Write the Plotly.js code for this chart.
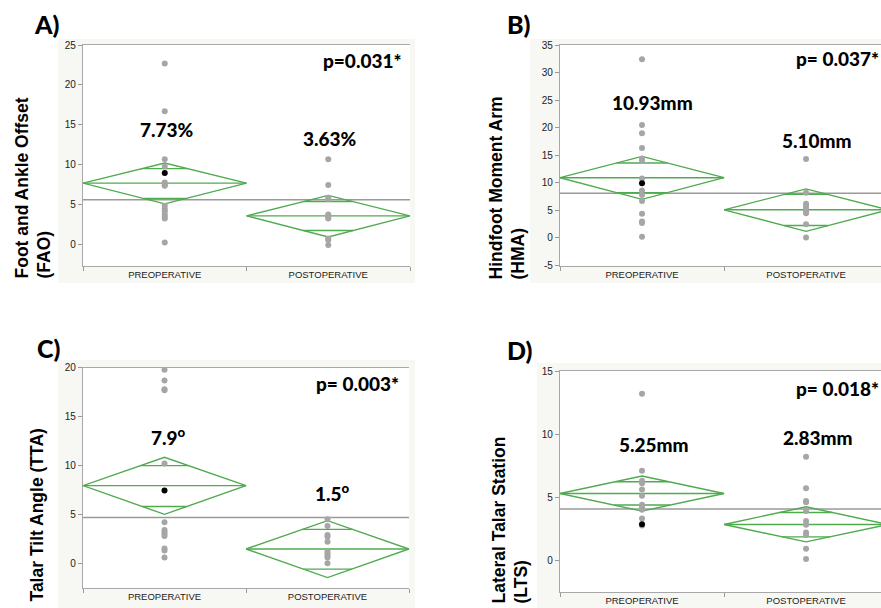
<!DOCTYPE html>
<html><head><meta charset="utf-8">
<script src="https://cdn.plot.ly/plotly-3.0.1.min.js"></script>
<style>html,body{margin:0;padding:0;background:#fff}#chart{width:881px;height:608px}</style>
</head><body><div id="chart"></div><script>
// ---------- DATA ----------
const groups = ["PREOPERATIVE", "POSTOPERATIVE"];

// A) Foot and Ankle Offset (FAO)
const faoPre  = [22.7, 16.7, 10.7, 9.8, 7.8, 7.5, 7.4, 4.9, 4.5, 4.2, 3.8, 3.5, 3.3, 0.3];
const faoPreBlack = [9.0];
const faoPost = [10.7, 7.5, 5.9, 5.7, 3.8, 3.6, 3.4, 3.3, 0.8, 0.6, 0.0];
const faoMean = [7.73, 3.63];
const faoCIupper = [10.25, 6.19];
const faoCIlower = [5.14, 1.0];
const faoOverlapUpper = [9.54, 5.43];
const faoOverlapLower = [5.8, 1.8];
const faoGrand = 5.65;

// B) Hindfoot Moment Arm (HMA)
const hmaPre  = [32.4, 20.5, 19.0, 16.3, 14.4, 14.0, 10.8, 8.6, 7.8, 6.7, 4.4, 3.0, 2.7, 0.2];
const hmaPreBlack = [9.9];
const hmaPost = [14.3, 8.2, 6.2, 5.8, 5.4, 5.0, 4.7, 4.5, 2.5, 0.1];
const hmaMean = [10.93, 5.10];
const hmaCIupper = [14.8, 8.9];
const hmaCIlower = [7.0, 1.2];
const hmaOverlapUpper = [13.6, 7.9];
const hmaOverlapLower = [8.2, 2.25];
const hmaGrand = 8.1;

// C) Talar Tilt Angle (TTA)
const ttaPre  = [19.8, 18.7, 17.8, 17.7, 10.2, 4.2, 3.4, 3.2, 3.0, 2.8, 1.5, 1.3, 0.6];
const ttaPreBlack = [7.45];
const ttaPost = [4.5, 3.8, 2.9, 2.7, 2.2, 1.2, 1.0, 0.8, 0.6, 0.0];
const ttaMean = [7.94, 1.46];
const ttaCIupper = [10.84, 4.36];
const ttaCIlower = [5.0, -1.47];
const ttaOverlapUpper = [9.98, 3.47];
const ttaOverlapLower = [5.8, -0.6];
const ttaGrand = 4.67;

// D) Lateral Talar Station (LTS)
const ltsPre  = [13.2, 7.1, 6.3, 6.1, 5.6, 5.1, 4.4, 4.2, 4.0, 3.3, 2.75];
const ltsPreBlack = [2.85];
const ltsPost = [8.2, 5.7, 4.7, 4.6, 3.9, 3.1, 2.8, 2.2, 2.0, 0.9, 0.1];
const ltsMean = [5.29, 2.83];
const ltsCIupper = [6.67, 4.23];
const ltsCIlower = [3.89, 1.45];
const ltsOverlapUpper = [6.22, 3.78];
const ltsOverlapLower = [4.37, 1.85];
const ltsGrand = 4.05;

// text
const panelLetters = ["A)", "B)", "C)", "D)"];
const yTitles = ["Foot and Ankle Offset<br>(FAO)", "Hindfoot Moment Arm<br>(HMA)", "Talar Tilt Angle (TTA)", "Lateral Talar Station<br>(LTS)"];
const pTexts = ["p=0.031*", "p= 0.037*", "p= 0.003*", "p= 0.018*"];
const meanLabels = [["7.73%", "3.63%"], ["10.93mm", "5.10mm"], ["7.9<sup>o</sup>", "1.5<sup>o</sup>"], ["5.25mm", "2.83mm"]];
const yTickVals = [[0, 5, 10, 15, 20, 25], [-5, 0, 5, 10, 15, 20, 25, 30, 35], [0, 5, 10, 15, 20], [0, 5, 10, 15]];
const yTickText = [["0", "5", "10", "15", "20", "25"], ["-5", "0", "5", "10", "15", "20", "25", "30", "35"], ["0", "5", "10", "15", "20"], ["0", "5", "10", "15"]];

// ---------- LAYOUT HELPERS ----------
const W = 881, H = 608;
const fx = p => p / W, fy = p => 1 - p / H;
const GREEN = "rgb(80,170,80)";
const DOT = "#a6a6a6";

const panels = [
  {pre: faoPre, black: faoPreBlack, post: faoPost, mean: faoMean, up: faoCIupper, lo: faoCIlower, ou: faoOverlapUpper, ol: faoOverlapLower, grand: faoGrand,
   xd: [83, 410], yd: [45, 265.7], yr: [-2.6, 25], xr: [-0.5, 1.5],
   bg: [58, 39, 415, 283], letter: [32, 24], ytitle: [33, 281], p: [404, 60], lab: [[167, 130], [330, 138]]},
  {pre: hmaPre, black: hmaPreBlack, post: hmaPost, mean: hmaMean, up: hmaCIupper, lo: hmaCIlower, ou: hmaOverlapUpper, ol: hmaOverlapLower, grand: hmaGrand,
   xd: [560, 881], yd: [45, 265.5], yr: [-5, 35], xr: [-0.5, 1.457],
   bg: [530, 39, 881, 283], letter: [505, 24], ytitle: [507, 281], p: [881, 59], lab: [[652, 102], [817, 140]]},
  {pre: ttaPre, black: ttaPreBlack, post: ttaPost, mean: ttaMean, up: ttaCIupper, lo: ttaCIlower, ou: ttaOverlapUpper, ol: ttaOverlapLower, grand: ttaGrand,
   xd: [83, 409], yd: [367.7, 587.7], yr: [-2.5, 20], xr: [-0.5, 1.5],
   bg: [58, 360, 415, 608], letter: [35, 348], ytitle: [36, 604], p: [401, 383], lab: [[168, 436], [332, 492]]},
  {pre: ltsPre, black: ltsPreBlack, post: ltsPost, mean: ltsMean, up: ltsCIupper, lo: ltsCIlower, ou: ltsOverlapUpper, ol: ltsOverlapLower, grand: ltsGrand,
   xd: [560, 881], yd: [371, 591.7], yr: [-2.5, 15], xr: [-0.5, 1.457],
   bg: [537, 363, 881, 608], letter: [505, 350], ytitle: [510, 606], p: [881, 388], lab: [[654, 444], [818, 437]]}
];

const traces = [];
const layout = {
  width: W, height: H, margin: {l: 0, r: 0, t: 0, b: 0},
  paper_bgcolor: "#fff", plot_bgcolor: "#fff", showlegend: false,
  shapes: [], annotations: []
};
const labelFont = {family: "Lato, 'Open Sans', sans-serif", size: 19, color: "#000", weight: 900};

panels.forEach((P, k) => {
  const n = k + 1;
  const xa = "x" + (n === 1 ? "" : n), ya = "y" + (n === 1 ? "" : n);
  const xk = "xaxis" + (n === 1 ? "" : n), yk = "yaxis" + (n === 1 ? "" : n);

  // off-white frame behind the plot
  layout.shapes.push({type: "rect", xref: "paper", yref: "paper", layer: "below",
    x0: fx(P.bg[0]), x1: fx(P.bg[2]), y0: fy(P.bg[3]), y1: fy(P.bg[1]),
    fillcolor: "#f7f7f3", line: {width: 0}});
  layout.shapes.push({type: "rect", xref: "paper", yref: "paper", layer: "below",
    x0: fx(P.xd[0]), x1: fx(P.xd[1]), y0: fy(P.yd[1]), y1: fy(P.yd[0]),
    fillcolor: "#ffffff", line: {width: 0}});

  // grand mean line
  traces.push({x: [-0.5, 1.5], y: [P.grand, P.grand], xaxis: xa, yaxis: ya, mode: "lines",
    line: {color: "#9a9a9a", width: 1.5}, hoverinfo: "skip", cliponaxis: true});

  // diamonds
  [0, 1].forEach(i => {
    const c = i, m = P.mean[i], u = P.up[i], l = P.lo[i];
    traces.push({x: [c - 0.5, c, c + 0.5, c, c - 0.5], y: [m, u, m, l, m], xaxis: xa, yaxis: ya,
      mode: "lines", line: {color: GREEN, width: 1.4}, hoverinfo: "skip"});
    traces.push({x: [c - 0.5, c + 0.5], y: [m, m], xaxis: xa, yaxis: ya,
      mode: "lines", line: {color: GREEN, width: 1.4}, hoverinfo: "skip"});
    // overlap marks: span the diamond width at that height
    const hu = (1 - (P.ou[i] - m) / (u - m)) * 0.5;
    const hl = (1 - (m - P.ol[i]) / (m - l)) * 0.5;
    traces.push({x: [c - hu, c + hu], y: [P.ou[i], P.ou[i]], xaxis: xa, yaxis: ya,
      mode: "lines", line: {color: GREEN, width: 1.4}, hoverinfo: "skip"});
    traces.push({x: [c - hl, c + hl], y: [P.ol[i], P.ol[i]], xaxis: xa, yaxis: ya,
      mode: "lines", line: {color: GREEN, width: 1.4}, hoverinfo: "skip"});
  });

  // points
  traces.push({x: P.pre.map(() => 0), y: P.pre, xaxis: xa, yaxis: ya, mode: "markers",
    marker: {color: DOT, size: 6}, hoverinfo: "y"});
  traces.push({x: P.post.map(() => 1), y: P.post, xaxis: xa, yaxis: ya, mode: "markers",
    marker: {color: DOT, size: 6}, hoverinfo: "y"});
  traces.push({x: P.black.map(() => 0), y: P.black, xaxis: xa, yaxis: ya, mode: "markers",
    marker: {color: "#000", size: 6}, hoverinfo: "y"});

  layout[xk] = {
    domain: [fx(P.xd[0]), fx(P.xd[1])], range: P.xr, anchor: ya,
    tickmode: "array", tickvals: [0, 1], ticktext: groups, ticks: "",
    tickfont: {family: "Liberation Sans, Arial, sans-serif", size: 9.5, color: "#222"},
    showline: true, linecolor: "#a8a8a8", linewidth: 1.2, mirror: true,
    showgrid: false, zeroline: false, automargin: false, fixedrange: true,
    minor: {tickmode: "array", tickvals: [-0.5, 0.5, 1.5], ticks: "outside", ticklen: 4, tickcolor: "#999", tickwidth: 1, showgrid: false}
  };
  layout[yk] = {
    domain: [fy(P.yd[1]), fy(P.yd[0])], range: P.yr, anchor: xa,
    tickmode: "array", tickvals: yTickVals[k], ticktext: yTickText[k],
    ticks: "outside", ticklen: 4, tickcolor: "#999",
    tickfont: {family: "Liberation Sans, Arial, sans-serif", size: 10, color: "#222"},
    showline: true, linecolor: "#a8a8a8", linewidth: 1.2, mirror: false,
    showgrid: false, zeroline: false, automargin: false, fixedrange: true
  };

  // panel letter
  layout.annotations.push({xref: "paper", yref: "paper", x: fx(P.letter[0]), y: fy(P.letter[1]),
    xanchor: "left", yanchor: "middle", showarrow: false, text: panelLetters[k],
    font: {family: "Lato, 'Open Sans', sans-serif", size: 25, color: "#000", weight: 900}});
  // y title (rotated)
  layout.annotations.push({xref: "paper", yref: "paper", x: fx(P.ytitle[0]), y: fy(P.ytitle[1]),
    xanchor: "center", yanchor: "bottom", showarrow: false, textangle: -90, align: "left",
    text: yTitles[k],
    font: {family: "Liberation Sans, Arial, sans-serif", size: 17.5, color: "#000", weight: 700}});
  // p-value
  layout.annotations.push({xref: "paper", yref: "paper", x: fx(P.p[0]), y: fy(P.p[1]),
    xanchor: "right", yanchor: "middle", showarrow: false, text: pTexts[k], font: labelFont});
  // mean labels
  [0, 1].forEach(i => {
    layout.annotations.push({xref: "paper", yref: "paper", x: fx(P.lab[i][0]), y: fy(P.lab[i][1]),
      xanchor: "center", yanchor: "middle", showarrow: false, text: meanLabels[k][i], font: labelFont});
  });
});

Plotly.newPlot("chart", traces, layout, {displayModeBar: false, staticPlot: true});
</script></body></html>
